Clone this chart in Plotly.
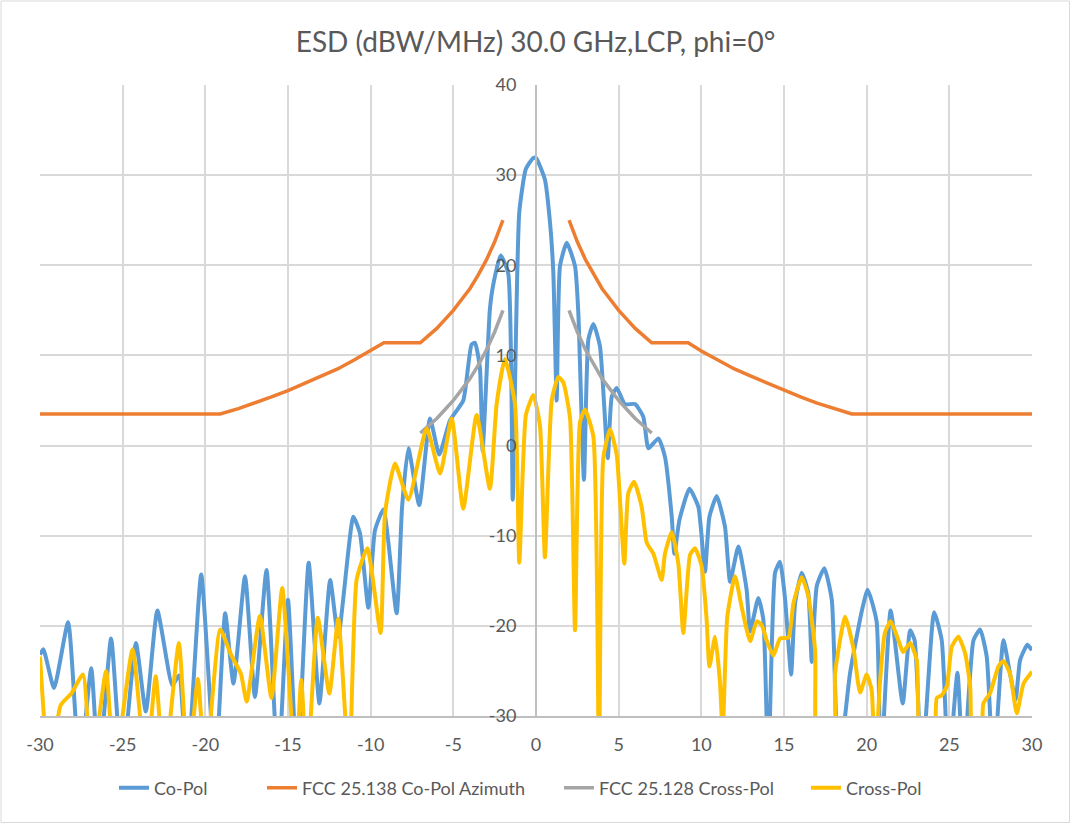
import plotly.graph_objects as go

# ---------------- data ----------------
co_x = [-30.0, -29.8, -29.15, -28.3, -27.6, -26.9, -26.45, -25.7, -25.05, -24.2, -23.6, -22.9,
        -22.0, -21.6, -21.1, -20.25, -19.4, -18.8, -18.3, -17.6, -17.0, -16.3, -15.6, -15.0,
        -14.45, -13.75, -13.1, -12.45, -11.96, -11.05, -10.65, -10.14, -9.74, -9.23, -8.43,
        -8.1, -7.72, -7.06, -6.41, -5.85, -5.2, -4.4, -3.9, -3.69, -3.39, -3.23, -2.79, -2.58,
        -2.14, -1.68, -1.41, -1.27, -1.01, -0.61, -0.16, 0.0, 0.54, 0.85, 1.05, 1.25, 1.45,
        1.86, 2.36, 2.56, 2.9, 3.17, 3.47, 3.87, 4.34, 4.58, 4.88, 5.38, 5.99, 6.49, 6.8, 7.4,
        7.8, 8.21, 8.37, 8.67, 9.28, 9.82, 10.22, 10.49, 10.93, 11.43, 11.74, 12.24, 12.74,
        12.95, 13.45, 13.75, 14.05, 14.46, 14.76, 15.06, 15.43, 15.67, 16.07, 16.47, 16.68,
        16.98, 17.44, 17.89, 18.29, 18.99, 19.7, 20.06, 20.6, 20.85, 21.45, 22.18, 22.63,
        22.9, 23.33, 24.08, 24.54, 24.95, 25.49, 25.85, 26.46, 26.86, 27.26, 27.67, 28.27,
        28.67, 29.01, 29.28, 29.72, 30.0]
co_y = [-23.2, -22.6, -26.9, -19.6, -36, -24.7, -36, -21.4, -36, -21.9, -29.5, -18.3,
        -26.6, -25.5, -36, -14.3, -36, -18.6, -26.4, -14.5, -27.9, -13.8, -36, -17.1,
        -36, -13.0, -28.6, -14.9, -21.2, -7.9, -9.7, -18.0, -9.4, -7.1, -18.6,
        -6.8, -0.3, -6.6, 3.0, -1.0, 2.8, 5.0, 11.2, 11.4, 8.6, -0.6, 15.1, 17.9,
        21.1, 19.1, -6.0, 6.6, 25.9, 30.7, 31.9, 31.9, 29.5, 24.7, 19.1, 5.0, 19.9,
        22.5, 19.9, 14.7, -3.8, 11.8, 13.5, 11.0, -1.4, 5.4, 6.4, 4.6, 4.6, 3.2, -0.3, 0.8,
        -1.25, -7.9, -12.0, -8.3, -4.8, -6.8, -14.0, -7.9, -5.6, -9.0, -15.1, -11.2, -16.0,
        -20.6, -16.9, -19.3, -36, -14.1, -12.9, -16.9, -25.4, -17.5, -14.1, -16.4, -24.0,
        -15.6, -13.6, -17.1, -36, -25.3, -18.4, -16.0, -19.5, -36, -18.3, -28.6, -20.5,
        -21.6, -36, -18.5, -21.6, -36, -25.2, -36, -21.6, -20.4, -23.4, -36, -21.6,
        -25.3, -28.2, -23.8, -22.1, -22.7]

cx_x = [-30.0, -29.45, -28.75, -28.1, -27.4, -26.9, -26.0, -25.5, -24.4, -23.6, -23.0, -22.5,
        -21.6, -21.05, -20.45, -20.0, -19.1, -18.45, -17.85, -17.5, -16.7, -16.0, -15.35,
        -14.55, -14.2, -13.85, -13.2, -12.5, -11.96, -11.3, -10.85, -10.2, -9.4, -9.13, -8.53,
        -7.72, -6.61, -5.8, -5.1, -4.4, -3.59, -2.79, -2.38, -1.88, -1.27, -1.01, -0.61,
        -0.16, 0.24, 0.54, 0.95, 1.35, 1.65, 2.06, 2.36, 2.66, 2.96, 3.47, 3.81, 4.07, 4.48,
        4.88, 5.34, 5.58, 5.93, 6.39, 6.7, 7.1, 7.6, 7.8, 8.21, 8.61, 8.91, 9.32, 9.62, 10.02,
        10.32, 10.49, 10.83, 11.13, 11.29, 11.57, 12.04, 12.44, 12.95, 13.35, 13.65, 13.95,
        14.36, 14.76, 15.27, 15.57, 16.07, 16.47, 16.88, 17.08, 17.99, 18.09, 18.7, 19.2,
        19.6, 20.0, 20.3, 20.5, 20.8, 21.1, 21.45, 21.92, 22.2, 22.63, 23.03, 23.33, 24.04,
        24.24, 24.54, 24.85, 25.15, 25.55, 25.95, 26.26, 26.46, 26.86, 27.06, 27.46, 27.97,
        28.27, 28.67, 29.08, 29.49, 30.0]
cx_y = [-23.4, -36, -28.8, -27.5, -25.4, -36, -25.0, -36, -22.6, -36, -25.6, -36,
        -21.9, -36, -25.9, -36, -20.4, -23.2, -25.3, -28.4, -18.9, -28.0, -15.8,
        -36, -26.0, -36, -19.1, -27.5, -19.2, -36, -14.9, -11.4, -20.8, -7.5, -2.0,
        -6.0, 1.9, -3.1, 3.0, -7.0, 3.4, -4.8, 4.6, 9.6, 4.6, -13.0, 3.4,
        5.6, 2.2, -12.4, 5.0, 7.6, 7.0, 3.0, -20.5, 2.6, 4.0, 1.0, -36, -1.4, 1.8,
        -1.0, -13.1, -5.3, -4.0, -6.8, -10.8, -12.0, -14.9, -12.0, -9.6, -13.1, -20.8, -12.1, -11.4, -13.4,
        -19.3, -24.5, -21.2, -26.3, -32, -19.0, -14.5, -17.9, -21.7, -19.5, -19.9, -21.6,
        -23.3, -21.4, -21.3, -17.5, -14.6, -16.7, -22.7, -36, -36, -25.3, -19.0, -22.5,
        -27.4, -25.4, -27.1, -36, -26.4, -20.8, -19.5, -21.6, -22.9, -21.9, -23.8, -36, -36,
        -28.0, -27.7, -26.7, -22.3, -21.2, -23.0, -26.7, -36, -36, -28.6, -27.5, -24.5,
        -23.9, -25.3, -29.7, -26.4, -25.1]

fcc_co_x = [-30, -19.1, -18, -17, -16, -15, -14, -13, -12, -11, -10, -9.2, -7, -6.5, -6, -5.5,
            -5, -4.5, -4, -3.5, -3, -2.5, -2, None,
            2, 2.5, 3, 3.5, 4, 4.5, 5, 5.5, 6, 6.5, 7, 9.2, 10, 11, 12, 13, 14, 15, 16, 17, 18,
            19.1, 30]
fcc_co_y = [3.5, 3.5, 4.1, 4.7, 5.4, 6.1, 6.9, 7.7, 8.5, 9.5, 10.5, 11.4, 11.4, 12.2, 13.0, 14.0,
            15.0, 16.2, 17.4, 18.9, 20.6, 22.6, 25.0, None,
            25.0, 22.6, 20.6, 18.9, 17.4, 16.2, 15.0, 14.0, 13.0, 12.2, 11.4, 11.4, 10.5, 9.5, 8.5,
            7.7, 6.9, 6.1, 5.4, 4.7, 4.1, 3.5, 3.5]

fcc_cx_x = [-7, -6.5, -6, -5.5, -5, -4.5, -4, -3.5, -3, -2.5, -2, None,
            2, 2.5, 3, 3.5, 4, 4.5, 5, 5.5, 6, 6.5, 7]
fcc_cx_y = [1.4, 2.2, 3.0, 4.0, 5.0, 6.2, 7.4, 8.9, 10.6, 12.6, 15.0, None,
            15.0, 12.6, 10.6, 8.9, 7.4, 6.2, 5.0, 4.0, 3.0, 2.2, 1.4]

x_tick_vals = [-30, -25, -20, -15, -10, -5, 0, 5, 10, 15, 20, 25, 30]
x_tick_text = ["-30", "-25", "-20", "-15", "-10", "-5", "0", "5", "10", "15", "20", "25", "30"]
y_tick_vals = [-30, -20, -10, 0, 10, 20, 30, 40]
y_tick_text = ["-30", "-20", "-10", "0", "10", "20", "30", "40"]

title_text = "ESD (dBW/MHz) 30.0 GHz,LCP, phi=0°"
names = ["Co-Pol", "FCC 25.138 Co-Pol Azimuth", "FCC 25.128 Cross-Pol", "Cross-Pol"]
colors = ["#5B9BD5", "#ED7D31", "#A5A5A5", "#FFC000"]

FONT = "Lato, Calibri, Carlito, sans-serif"
TXT = "#595959"

W, H = 1071, 824
ML, MR, MT, MB = 40, 39, 85, 108
PW, PH = W - ML - MR, H - MT - MB

fig = go.Figure()
series = [(co_x, co_y, 4, "spline"), (fcc_co_x, fcc_co_y, 3.5, "linear"),
          (fcc_cx_x, fcc_cx_y, 3.5, "linear"), (cx_x, cx_y, 4, "spline")]
legend_px = [120, 268, 565, 812]
for i, ((xs, ys, w, shp), nm, c) in enumerate(zip(series, names, colors)):
    lg = "legend" if i == 0 else f"legend{i+1}"
    line = dict(color=c, width=w, shape=shp)
    if shp == "spline":
        line["smoothing"] = 0.5
    fig.add_trace(go.Scatter(x=xs, y=ys, mode="lines", name=nm, line=line,
                             connectgaps=False, legend=lg))

legend_common = dict(orientation="h", yanchor="middle", xanchor="left",
                     font=dict(family=FONT, size=18, color=TXT),
                     bgcolor="rgba(0,0,0,0)", itemwidth=30, tracegroupgap=0)
ly = (MT + PH - 788) / PH
layout_leg = {}
for i, px in enumerate(legend_px):
    key = "legend" if i == 0 else f"legend{i+1}"
    layout_leg[key] = dict(x=(px - ML - 6) / PW, y=ly, **legend_common)

fig.update_layout(
    width=W, height=H,
    margin=dict(l=ML, r=MR, t=MT, b=MB),
    paper_bgcolor="white", plot_bgcolor="white",
    title=dict(text=title_text, x=0.5, xanchor="center", y=1 - 42 / H, yanchor="middle",
               font=dict(family=FONT, size=28, color=TXT)),
    xaxis=dict(range=[-30, 30], tickmode="array", tickvals=x_tick_vals, ticktext=x_tick_text,
               showgrid=True, gridcolor="#D9D9D9",
               gridwidth=2, zeroline=False, showline=True, linecolor="#BFBFBF",
               linewidth=2, ticks="", ticklabelstandoff=11,
               tickfont=dict(family=FONT, size=18, color=TXT)),
    yaxis=dict(range=[-30, 40], tickmode="array", tickvals=y_tick_vals, ticktext=y_tick_text,
               showgrid=True, gridcolor="#D9D9D9",
               gridwidth=2, zeroline=False, showline=True, linecolor="#BFBFBF",
               linewidth=2, ticks="", anchor="free", position=0.5, side="left",
               ticklabelstandoff=15,
               tickfont=dict(family=FONT, size=18, color=TXT)),
    showlegend=True,
    shapes=[dict(type="rect", xref="paper", yref="paper",
                 x0=-(ML - 1) / PW, x1=1 + (MR - 1.5) / PW,
                 y0=-(MB - 1.5) / PH, y1=1 + (MT - 1) / PH,
                 line=dict(color="#D9D9D9", width=1), fillcolor="rgba(0,0,0,0)")],
    **layout_leg,
)

fig.write_html("out.html")
